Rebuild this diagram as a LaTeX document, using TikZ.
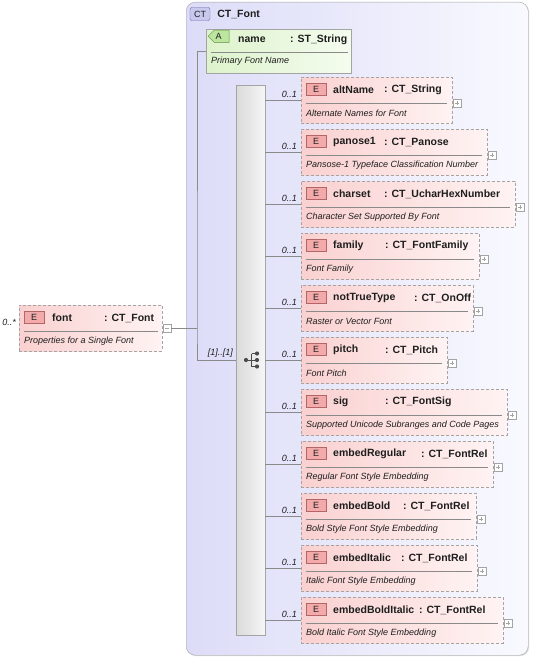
\documentclass[tikz,border=0pt]{standalone}
\usepackage{fontspec}
\setmainfont{Liberation Sans}
\usetikzlibrary{positioning, calc, shadows, shapes.misc}
\definecolor{cframe}{HTML}{A4A4A4}
\definecolor{cct}{HTML}{DCDCF8}
\definecolor{cctr}{HTML}{F9F9FF}
\definecolor{cctb}{HTML}{C9C9F0}
\definecolor{cctbl}{HTML}{6A6AA8}
\definecolor{cel}{HTML}{FAD0D0}
\definecolor{celr}{HTML}{FFF3F3}
\definecolor{cbadge}{HTML}{F2AAAA}
\definecolor{cbadgel}{HTML}{B46666}
\definecolor{cattr}{HTML}{DDF3CC}
\definecolor{cattrr}{HTML}{F5FCEF}
\definecolor{cattrb}{HTML}{BCE6A0}
\definecolor{cattrbl}{HTML}{5E8E40}
\definecolor{cseq}{HTML}{DADADA}
\definecolor{cseqr}{HTML}{F6F6F6}
\definecolor{cline}{HTML}{8A8A8A}
\definecolor{ctext}{HTML}{1E1E1E}

\begin{document}
\begin{tikzpicture}[
  x=1pt, y=-1pt,
  elbox/.style={draw=cframe, dash pattern=on 3pt off 2pt, left color=cel, right color=celr,
                minimum height=46pt, inner sep=0pt, anchor=north west},
  badge/.style={draw=cbadgel, fill=cbadge, minimum width=20pt, minimum height=12pt,
                inner sep=0pt, anchor=north west, font=\fontsize{9}{10}\selectfont, text=ctext},
  head/.style={font=\fontsize{10.5}{12}\selectfont\bfseries, inner sep=0pt, anchor=west, text=ctext},
  desc/.style={font=\fontsize{9}{10}\selectfont\itshape, inner sep=0pt, anchor=west, text=ctext},
  mult/.style={font=\fontsize{9}{10}\selectfont\itshape, inner sep=0pt, anchor=east, text=ctext},
  sep/.style={draw=cline, line width=0.6pt},
  conn/.style={draw=cline, line width=0.6pt},
  plusbox/.style={draw=cframe, fill=white, minimum size=8pt, inner sep=0pt, anchor=west,
    path picture={
      \draw[cframe] ([xshift=1.8pt]path picture bounding box.west) -- ([xshift=-1.8pt]path picture bounding box.east);
      \draw[cframe] ([yshift=-1.8pt]path picture bounding box.north) -- ([yshift=1.8pt]path picture bounding box.south);}},
  minusbox/.style={draw=cframe, fill=white, minimum size=8pt, inner sep=0pt, anchor=west,
    path picture={
      \draw[cframe] ([xshift=1.8pt]path picture bounding box.west) -- ([xshift=-1.8pt]path picture bounding box.east);}},
  ]
\useasboundingbox (0,0) rectangle (533,658);

% complex type frame
\node[draw=cframe, rounded corners=9pt, left color=cct, right color=cctr,
      minimum width=342pt, minimum height=653pt, anchor=north west,
      drop shadow={shadow xshift=1pt, shadow yshift=-1pt, opacity=.25}] (ctfont) at (186,2) {};
\node[draw=cctbl, fill=cctb, rounded corners=2pt, minimum width=20pt, minimum height=13pt,
      inner sep=0pt, font=\fontsize{9}{10}\selectfont, text=ctext] (ctb) at (200,14) {CT};
\node[head, right=7pt of ctb] (cttitle) {CT\_Font};

% attribute
\node[chamfered rectangle, chamfered rectangle corners={north west, south west},
      chamfered rectangle xsep=6pt, draw=cframe, left color=cattr, right color=cattrr,
      minimum width=145pt, minimum height=44pt, inner sep=0pt, anchor=north west] (name) at (206,29) {};
\node[chamfered rectangle, chamfered rectangle corners={north west, south west},
      chamfered rectangle xsep=3pt, draw=cattrbl, fill=cattrb, minimum width=21pt,
      minimum height=12pt, inner sep=0pt, anchor=north west,
      font=\fontsize{9}{10}\selectfont, text=ctext] (ab) at (211,33) {A};
\node[head] (aname) at (238,40) {name};
\node[head] (atype) at (290,40) {: ST\_String};
\draw[sep] (211,52) -- (348,52);
\node[desc] (adesc) at (211,61) {Primary Font Name};

% outer element
\node[elbox, minimum width=143pt] (font) at (19,305) {};
\node[badge] (fb) at (24,311) {E};
\node[head] (fname) at (52,318) {font};
\node[head] (ftype) at (104,318) {: CT\_Font};
\draw[sep] (24,331) -- (158,331);
\node[desc] (fdesc) at (24,341) {Properties for a Single Font};
\node[mult] (fmult) at (16,322) {0..*};
\node[minusbox] (fm) at (163,328) {};

% sequence compositor
\node[draw=cframe, left color=cseq, right color=cseqr, minimum width=29pt, minimum height=550pt,
      inner sep=0pt, anchor=north west] (seq) at (236,85) {};
\draw[ctext!80, line width=0.9pt] (246,360) -- (251.5,360) (251.5,353.5) -- (251.5,366.5)
  (251.5,353.5) -- (257,353.5) (251.5,360) -- (257,360) (251.5,366.5) -- (257,366.5);
\fill[ctext!80] (246,360) circle (2.1pt) (257,353.5) circle (2.1pt)
  (257,360) circle (2.1pt) (257,366.5) circle (2.1pt);

\coordinate (jn) at (197,328);
\draw[conn] (fm.east) -- (jn);
\draw[conn] (name.west) -| (jn) |- (seq.west);
\node[mult] (smult) at (233,353) {[1]..[1]};

% child elements
\foreach \nm/\ty/\ds/\cx/\rx [count=\i] in {
  altName/CT\_String/Alternate Names for Font/384/452,
  panose1/CT\_Panose/Pansose-1 Typeface Classification Number/384/487,
  charset/CT\_UcharHexNumber/Character Set Supported By Font/384/515,
  family/CT\_FontFamily/Font Family/385/479,
  notTrueType/CT\_OnOff/Raster or Vector Font/414/473,
  pitch/CT\_Pitch/Font Pitch/385/447,
  sig/CT\_FontSig/Supported Unicode Subranges and Code Pages/385/507,
  embedRegular/CT\_FontRel/Regular Font Style Embedding/421/493,
  embedBold/CT\_FontRel/Bold Style Font Style Embedding/403/476,
  embedItalic/CT\_FontRel/Italic Font Style Embedding/401/477,
  embedBoldItalic/CT\_FontRel/Bold Italic Font Style Embedding/419/503}{
  \pgfmathsetmacro{\yy}{25+52*\i}
  \node[elbox, minimum width=\rx-301] (e\i) at (301,\yy) {};
  \node[badge] (b\i) at (306,\yy+6) {E};
  \node[head] (n\i) at (333,\yy+13) {\nm};
  \node[head] (t\i) at (\cx,\yy+13) {: \ty};
  \draw[sep] (306,\yy+26) -- (\rx-5,\yy+26);
  \node[desc] (d\i) at (306,\yy+36) {\ds};
  \node[plusbox] (p\i) at (\rx+1,\yy+26) {};
  \node[mult] (m\i) at (297,\yy+17) {0..1};
  \draw[conn] (seq.east |- e\i.west) -- (e\i.west);
}
\end{tikzpicture}
\end{document}
